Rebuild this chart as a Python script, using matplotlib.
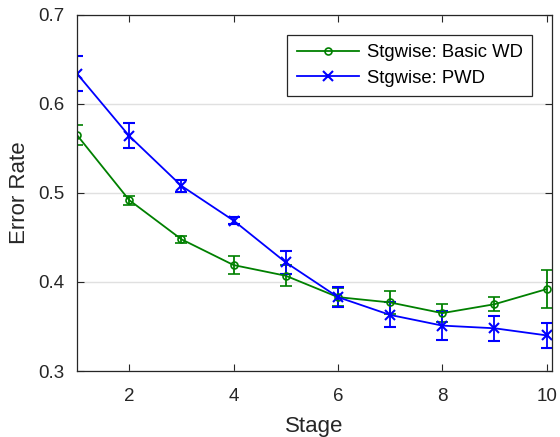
import matplotlib.pyplot as plt
from matplotlib.lines import Line2D

plt.rcParams['font.family'] = ['Liberation Sans', 'DejaVu Sans']

# Error rate per training stage, mean and error bar half-width
stages = [1, 2, 3, 4, 5, 6, 7, 8, 9, 10]
basic_wd = [0.565, 0.492, 0.448, 0.419, 0.407, 0.383, 0.377, 0.365, 0.375, 0.392]
basic_wd_err = [0.011, 0.005, 0.004, 0.010, 0.012, 0.010, 0.013, 0.010, 0.008, 0.021]
pwd = [0.634, 0.564, 0.508, 0.469, 0.422, 0.383, 0.363, 0.351, 0.348, 0.340]
pwd_err = [0.020, 0.014, 0.007, 0.004, 0.013, 0.011, 0.014, 0.016, 0.014, 0.014]

fig = plt.figure(figsize=(5.6, 4.37), dpi=100)
ax = fig.add_axes([0.1375, 0.151, 0.848, 0.815])

green = (0, 0.5, 0)
blue = (0, 0, 1)
dark = '#262626'

ax.errorbar(stages, basic_wd, yerr=basic_wd_err, color=green, marker='o',
            markersize=5, markerfacecolor='none', markeredgewidth=1.2,
            linewidth=1.3, capsize=4.3, elinewidth=1.3, capthick=1.3)
ax.errorbar(stages, pwd, yerr=pwd_err, color=blue, marker='x',
            markersize=7, markeredgewidth=1.5,
            linewidth=1.3, capsize=4.3, elinewidth=1.3, capthick=1.3)

ax.set_xlim(1, 10.1)
ax.set_ylim(0.3, 0.7)
ax.set_xticks([2, 4, 6, 8, 10])
ax.set_yticks([0.3, 0.4, 0.5, 0.6, 0.7])
ax.set_yticklabels(['0.3', '0.4', '0.5', '0.6', '0.7'])
ax.yaxis.grid(True, color='#e0e0e0', linewidth=1)
ax.set_axisbelow(True)

ax.tick_params(direction='in', top=True, right=True, length=5,
               labelsize=13.5, colors=dark, width=0.8)
ax.tick_params(axis='x', pad=12)
ax.tick_params(axis='y', pad=9)
for s in ax.spines.values():
    s.set_color(dark)
    s.set_linewidth(0.9)

ax.set_xlabel('Stage', fontsize=16, color=dark, labelpad=8)
ax.set_ylabel('Error Rate', fontsize=16, color=dark, labelpad=6)

# legend shows plain line + marker, no error bars
handles = [
    Line2D([], [], color=green, marker='o', markersize=5, markerfacecolor='none',
           markeredgewidth=1.2, linewidth=1.3),
    Line2D([], [], color=blue, marker='x', markersize=7, markeredgewidth=1.5,
           linewidth=1.3),
]
leg = ax.legend(handles, ['Stgwise: Basic WD', 'Stgwise: PWD'],
                loc='upper right', bbox_to_anchor=(0.958, 0.944), fontsize=13.3,
                frameon=True, fancybox=False, edgecolor=dark, framealpha=1,
                handlelength=3.4, handletextpad=0.4, borderpad=0.5,
                labelspacing=0.47, borderaxespad=0)
leg.get_frame().set_linewidth(0.9)

fig.savefig('out.png', dpi=100)
